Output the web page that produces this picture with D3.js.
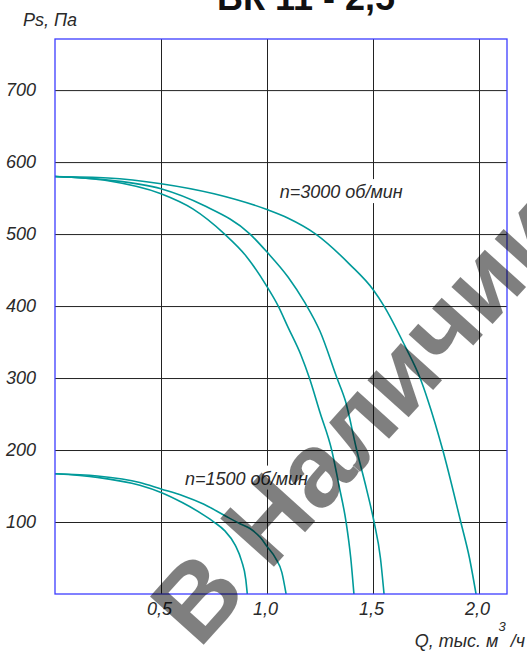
<!DOCTYPE html>
<html>
<head>
<meta charset="utf-8">
<script src="https://cdn.jsdelivr.net/npm/d3@7"></script>
<style>
  html, body { margin: 0; padding: 0; background: #fff; }
  svg { display: block; }
  .lbl { font-family: "Liberation Sans", Arial, sans-serif; font-style: italic; fill: #2a2a2a; }
</style>
</head>
<body>
<svg id="chart" width="527" height="657"></svg>
<script>
// ---- data ----
const title = "ВК 11 - 2,5";
const yTitle = "Ps, Па";
const qTicks = [0.5, 1.0, 1.5, 2.0];
const qTickLabels = ["0,5", "1,0", "1,5", "2,0"];
const pTicks = [100, 200, 300, 400, 500, 600, 700];
const pTickLabels = ["100", "200", "300", "400", "500", "600", "700"];

// n = 3000 rpm curves (Q in thousand m3/h, Ps in Pa)
const c3000a_Q = [0, 0.25, 0.5, 0.75, 1.0, 1.1, 1.23, 1.39, 1.5, 1.552, 1.65, 1.722, 1.758, 1.829, 1.914, 1.955, 1.986];
const c3000a_P = [580, 578, 570, 556, 534, 522, 500, 458, 423, 400, 345, 300, 270, 200, 100, 50, 0];
const c3000b_Q = [0, 0.25, 0.5, 0.7, 0.92, 1.0, 1.1, 1.178, 1.25, 1.33, 1.37, 1.423, 1.47, 1.505, 1.535, 1.552];
const c3000b_P = [580, 575, 563, 540, 500, 475, 440, 405, 365, 300, 268, 200, 145, 100, 50, 0];
const c3000c_Q = [0, 0.25, 0.5, 0.65, 0.8, 0.9, 1.0, 1.053, 1.1, 1.16, 1.2, 1.25, 1.305, 1.34, 1.373, 1.395, 1.41];
const c3000c_P = [580, 574, 556, 535, 500, 470, 427, 400, 370, 332, 300, 252, 200, 150, 100, 50, 0];
// n = 1500 rpm curves
const c1500a_Q = [0, 0.2, 0.4, 0.5, 0.6, 0.7, 0.8, 0.87, 0.92, 0.97, 1.0, 1.04, 1.07, 1.09];
const c1500a_P = [167, 164, 155, 146, 137, 125, 109, 98, 91, 78, 66, 50, 30, 0];
const c1500b_Q = [0, 0.2, 0.4, 0.5, 0.6, 0.7, 0.75, 0.8, 0.85, 0.88, 0.9, 0.907];
const c1500b_P = [167, 162, 151, 141, 127, 110, 100, 88, 68, 46, 20, 0];

const curves = [
  [c3000a_Q, c3000a_P], [c3000b_Q, c3000b_P], [c3000c_Q, c3000c_P],
  [c1500a_Q, c1500a_P], [c1500b_Q, c1500b_P]
];
const annotations = [
  { text: "n=3000 об/мин", q: 1.06, p: 550 },
  { text: "n=1500 об/мин", q: 0.613, p: 152 }
];
const watermark = "В Наличии";

// ---- layout ----
const svg = d3.select("#chart");
const L = 55, R = 507, T = 39, B = 594;
const x = d3.scaleLinear().domain([0, 2.132]).range([L, R]);
const y = d3.scaleLinear().domain([0, 771]).range([B, T]);

// grid + tick labels via axes
const xAxis = svg.append("g").attr("transform", `translate(0,${B})`)
  .call(d3.axisBottom(x).tickValues(qTicks).tickSize(-(B - T)).tickPadding(8)
        .tickFormat((d, i) => qTickLabels[i]));
xAxis.select(".domain").remove();
xAxis.selectAll("line").attr("stroke", "#222").attr("stroke-width", 1);
xAxis.selectAll("text").attr("class", "lbl").attr("font-size", 18).attr("dx", -2).style("fill", "#2a2a2a");

const yAxis = svg.append("g").attr("transform", `translate(${L},0)`)
  .call(d3.axisLeft(y).tickValues(pTicks).tickSize(-(R - L)).tickPadding(19)
        .tickFormat((d, i) => pTickLabels[i]));
yAxis.select(".domain").remove();
yAxis.selectAll("line").attr("stroke", "#222").attr("stroke-width", 1);
yAxis.selectAll("text").attr("class", "lbl").attr("font-size", 18).style("fill", "#2a2a2a");
svg.selectAll("g").attr("font-family", null).attr("font-size", null);

// annotations with white knockout
annotations.forEach(a => {
  const g = svg.append("g");
  const r = g.append("rect").attr("fill", "#fff");
  const t = g.append("text").attr("class", "lbl").attr("font-size", 18)
    .attr("x", x(a.q)).attr("y", y(a.p)).text(a.text);
  const bb = t.node().getBBox();
  r.attr("x", bb.x - 2).attr("y", bb.y - 3).attr("width", bb.width + 4).attr("height", bb.height + 4);
});

// curves
svg.append("clipPath").attr("id", "plotclip").append("rect")
  .attr("x", L).attr("y", T).attr("width", R - L).attr("height", B - T);
const line = d3.line().x(d => x(d[0])).y(d => y(d[1])).curve(d3.curveMonotoneX);
const cg = svg.append("g").attr("clip-path", "url(#plotclip)");
curves.forEach(([qs, ps]) => {
  cg.append("path").datum(qs.map((q, i) => [q, ps[i]]))
    .attr("d", line).attr("fill", "none").attr("stroke", "#009a9a").attr("stroke-width", 1.6);
});

// plot border
svg.append("rect").attr("x", L).attr("y", T).attr("width", R - L).attr("height", B - T)
  .attr("fill", "none").attr("stroke", "#3c3cff").attr("stroke-width", 1.3);

// titles
svg.append("text").attr("x", 306).attr("y", 10).attr("text-anchor", "middle")
  .attr("font-family", "Liberation Sans, Arial, sans-serif").attr("font-weight", "bold")
  .attr("font-size", 36).attr("fill", "#111").text(title);
svg.append("text").attr("class", "lbl").attr("x", 23).attr("y", 26).attr("font-size", 18).text(yTitle);
const xt = svg.append("text").attr("class", "lbl").attr("x", 525).attr("y", 647)
  .attr("text-anchor", "end").attr("font-size", 18);
xt.append("tspan").text("Q, тыс. м");
xt.append("tspan").attr("dy", -16).attr("font-size", 13).text("3");
xt.append("tspan").attr("dy", 16).text(" /ч");

// watermark
svg.append("text").attr("transform", "translate(199,650) rotate(-48)")
  .attr("font-family", "Liberation Sans, Arial, sans-serif").attr("font-weight", "bold")
  .attr("font-size", 105).attr("fill", "#000").attr("fill-opacity", 0.5).text(watermark);
</script>
</body>
</html>
